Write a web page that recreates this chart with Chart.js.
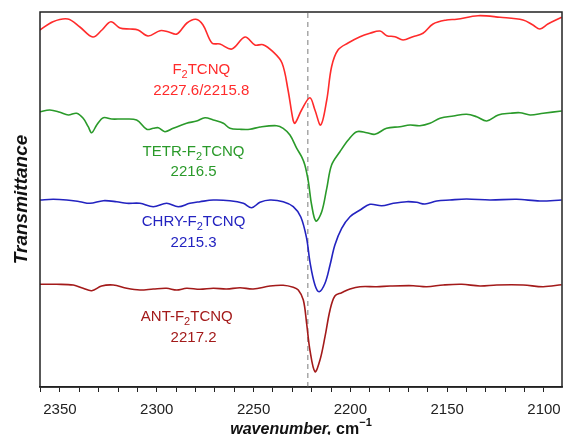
<!DOCTYPE html>
<html>
<head>
<meta charset="utf-8">
<script src="https://cdn.jsdelivr.net/npm/chart.js@4.4.0/dist/chart.umd.min.js"></script>
<style>
  body { margin: 0; background: #fff; }
</style>
</head>
<body>
<canvas id="ir-chart" width="563" height="435"></canvas>
<script>
// wavenumber (cm-1) / stacked transmittance (arb. units)
var f2tcnqWn = [2360.3, 2353.6, 2345.9, 2339.7, 2333.0, 2328.3, 2323.7, 2319.0, 2313.8, 2309.7, 2304.5, 2298.3, 2294.2, 2289.6, 2284.4, 2279.8, 2276.1, 2271.5, 2267.4, 2261.2, 2254.4, 2249.3, 2245.1, 2240.0, 2235.3, 2232.2, 2229.6, 2228.6, 2225.2, 2220.9, 2218.3, 2215.3, 2212.2, 2209.7, 2206.4, 2201.2, 2195.0, 2189.9, 2184.7, 2181.2, 2177.0, 2172.8, 2167.7, 2162.5, 2157.3, 2150.3, 2145.1, 2134.1, 2122.7, 2110.8, 2105.7, 2102.1, 2098.0, 2090.9];
var f2tcnqT = [357, 365.3, 368, 360, 350, 357, 365.3, 359, 358, 357, 351, 356.3, 355.3, 353, 364, 367.7, 362, 344, 343, 338, 350, 342, 342.3, 335.3, 324, 297, 267, 263.7, 277, 289.3, 277, 262, 287, 320.3, 337, 344, 350.3, 353.7, 356, 351.3, 350.3, 347, 350.3, 353.7, 363, 367, 367.7, 371.3, 369.7, 367, 362, 358, 363, 369.7];

var tetrWn = [2360.3, 2355.2, 2350.0, 2345.7, 2341.4, 2338.0, 2335.4, 2333.6, 2331.0, 2327.6, 2323.3, 2317.3, 2310.4, 2305.2, 2301.8, 2299.2, 2295.8, 2291.5, 2284.6, 2279.4, 2275.1, 2270.8, 2265.6, 2262.2, 2257.0, 2251.9, 2246.7, 2238.1, 2234.7, 2231.2, 2227.7, 2225.2, 2223.5, 2221.7, 2220.0, 2217.8, 2214.8, 2212.2, 2209.7, 2205.4, 2201.1, 2196.7, 2191.6, 2187.3, 2181.3, 2174.4, 2169.2, 2164.1, 2158.9, 2153.7, 2146.8, 2140.0, 2134.8, 2129.6, 2123.6, 2117.6, 2112.4, 2107.2, 2100.4, 2090.9];
var tetrT = [275.3, 277, 274.7, 272, 273.7, 268.7, 260.3, 254.3, 262, 269.3, 268, 268, 267, 257.7, 258.7, 259.3, 255.3, 258.7, 263.7, 266, 269.3, 267, 263.7, 258.7, 257.7, 257.7, 260, 261.3, 258.7, 252, 238.7, 230.3, 222, 205.3, 182, 166, 175.3, 198.7, 222, 235.3, 247, 255.3, 254.3, 252.7, 258.7, 260.3, 262, 261.3, 263.7, 268.7, 271, 272.7, 270.3, 266, 272, 273.7, 274.3, 272, 273.7, 276];

var chryWn = [2360.3, 2353.5, 2346.5, 2339.7, 2334.5, 2327.6, 2320.7, 2315.5, 2308.7, 2301.8, 2294.9, 2288.9, 2282.9, 2277.7, 2270.8, 2262.2, 2255.3, 2251.0, 2246.7, 2241.5, 2234.7, 2229.5, 2225.6, 2222.6, 2220.9, 2218.3, 2216.1, 2213.1, 2210.5, 2208.0, 2204.5, 2200.2, 2195.0, 2189.9, 2183.8, 2177.8, 2170.9, 2165.8, 2161.5, 2155.4, 2148.6, 2140.0, 2127.9, 2114.1, 2102.1, 2090.9];
var chryT = [187, 187.7, 187, 185.3, 183.7, 186.3, 185.3, 183.7, 183.7, 180.3, 183.7, 180.3, 183.7, 185.3, 187, 186.3, 183.7, 179.3, 184.7, 187, 185.3, 180.3, 170, 148.7, 125.3, 102, 95.3, 103.7, 122, 142, 158.7, 170.3, 177, 182.7, 181.3, 183.7, 185.3, 184.7, 183, 186, 187, 188, 187, 187.7, 186, 187];

var antWn = [2360.3, 2351.7, 2343.1, 2338.0, 2333.6, 2328.5, 2322.5, 2315.5, 2308.7, 2301.8, 2294.9, 2289.7, 2284.6, 2277.7, 2270.8, 2263.9, 2257.0, 2250.2, 2241.5, 2234.7, 2229.5, 2226.9, 2224.3, 2222.6, 2220.9, 2218.3, 2215.7, 2213.1, 2210.5, 2208.0, 2204.5, 2200.2, 2195.0, 2186.4, 2179.5, 2167.5, 2160.6, 2152.0, 2142.5, 2133.1, 2124.4, 2110.7, 2100.4, 2090.9];
var antT = [102.7, 102.7, 102, 98.7, 96.3, 101, 102, 98.7, 97, 98, 98.7, 97, 98.7, 97.7, 98.7, 98, 99.3, 98, 101, 101.7, 99.7, 97, 87, 63.7, 37, 15.3, 27, 50.3, 77, 91, 94.3, 98, 100.3, 100.3, 101, 101.3, 100.3, 102, 102.7, 101, 102, 102, 100.3, 102.3];

var sampleNames = ['F2TCNQ', 'TETR-F2TCNQ', 'CHRY-F2TCNQ', 'ANT-F2TCNQ'];
var peakLabels = ['2227.6/2215.8', '2216.5', '2215.3', '2217.2'];
var refLine = 2222;
var xMin = 2090.7, xMax = 2360.3;
var yMin = 0, yMax = 375;

var colors = ['#ff2b2b', '#2a9a2a', '#2323c0', '#a31a1a'];
var FONT = '"Liberation Sans", Arial, sans-serif';

function pts(xs, ys) {
  return xs.map(function (x, i) { return { x: x, y: ys[i] }; });
}

function line(label, xs, ys, color) {
  return {
    label: label,
    data: pts(xs, ys),
    borderColor: color,
    borderWidth: 1.6,
    pointRadius: 0,
    tension: 0.35,
    fill: false,
    order: 1
  };
}

// name with subscript 2, centred at cx
function drawName(ctx, name, cx, cy, color) {
  var i = name.indexOf('2');
  var a = name.slice(0, i), b = name.slice(i + 1);
  ctx.font = '15px ' + FONT;
  var wa = ctx.measureText(a).width, wb = ctx.measureText(b).width;
  ctx.font = '11px ' + FONT;
  var ws = ctx.measureText('2').width;
  var x = cx - (wa + ws + wb) / 2;
  ctx.fillStyle = color;
  ctx.textBaseline = 'middle';
  ctx.textAlign = 'left';
  ctx.font = '15px ' + FONT;
  ctx.fillText(a, x, cy);
  ctx.font = '11px ' + FONT;
  ctx.fillText('2', x + wa, cy + 5);
  ctx.font = '15px ' + FONT;
  ctx.fillText(b, x + wa + ws, cy);
}

var annotations = {
  id: 'annotations',
  afterDraw: function (chart) {
    var ctx = chart.ctx, xs = chart.scales.x, ys = chart.scales.y, area = chart.chartArea;
    ctx.save();
    // frame
    ctx.strokeStyle = '#222';
    ctx.lineWidth = 1.5;
    ctx.strokeRect(area.left, area.top, area.right - area.left, area.bottom - area.top);

    // sample labels (positions in data units)
    var namePos = [[2277, 317], [2281, 235], [2281, 165], [2284.5, 70]];
    var peakPos = [[2277, 296], [2281, 215], [2281, 144], [2281, 49]];
    for (var k = 0; k < sampleNames.length; k++) {
      drawName(ctx, sampleNames[k], xs.getPixelForValue(namePos[k][0]), ys.getPixelForValue(namePos[k][1]), colors[k]);
      ctx.font = '15px ' + FONT;
      ctx.textAlign = 'center';
      ctx.textBaseline = 'middle';
      ctx.fillText(peakLabels[k], xs.getPixelForValue(peakPos[k][0]), ys.getPixelForValue(peakPos[k][1]));
    }

    // x axis title
    ctx.fillStyle = '#111';
    ctx.textBaseline = 'alphabetic';
    ctx.textAlign = 'left';
    var t1 = 'wavenumber,', t2 = ' cm', t3 = '\u22121';
    ctx.font = 'italic bold 16px ' + FONT;
    var w1 = ctx.measureText(t1).width;
    ctx.font = 'bold 16px ' + FONT;
    var w2 = ctx.measureText(t2).width;
    ctx.font = 'bold 11px ' + FONT;
    var w3 = ctx.measureText(t3).width;
    var cx = (area.left + area.right) / 2;
    var x0 = cx - (w1 + w2 + w3) / 2, base = 434;
    ctx.font = 'italic bold 16px ' + FONT;
    ctx.fillText(t1, x0, base);
    ctx.font = 'bold 16px ' + FONT;
    ctx.fillText(t2, x0 + w1, base);
    ctx.font = 'bold 11px ' + FONT;
    ctx.fillText(t3, x0 + w1 + w2, base - 8);

    // y axis title
    ctx.translate(22, (area.top + area.bottom) / 2);
    ctx.rotate(-Math.PI / 2);
    ctx.textAlign = 'center';
    ctx.textBaseline = 'middle';
    ctx.font = 'italic bold 19px ' + FONT;
    ctx.fillText('Transmittance', 0, 0);
    ctx.restore();
  }
};

var config = {
  type: 'line',
  data: {
    datasets: [
      line(sampleNames[0], f2tcnqWn, f2tcnqT, colors[0]),
      line(sampleNames[1], tetrWn, tetrT, colors[1]),
      line(sampleNames[2], chryWn, chryT, colors[2]),
      line(sampleNames[3], antWn, antT, colors[3]),
      {
        label: 'ref',
        data: [{ x: refLine, y: yMin }, { x: refLine, y: yMax }],
        borderColor: '#a8a8a8',
        borderWidth: 1.5,
        borderDash: [5, 4],
        pointRadius: 0,
        order: 10
      }
    ]
  },
  options: {
    responsive: false,
    animation: false,
    layout: { padding: { left: 40, right: 1, top: 12, bottom: 16 } },
    plugins: {
      legend: { display: false },
      tooltip: { enabled: false }
    },
    scales: {
      x: {
        type: 'linear',
        reverse: true,
        min: xMin,
        max: xMax,
        afterFit: function (scale) {
          scale.height = 32;
          scale.paddingLeft = 0;
          scale.paddingRight = 0;
          scale.paddingTop = 0;
          scale.paddingBottom = 0;
        },
        ticks: {
          stepSize: 10,
          includeBounds: false,
          autoSkip: false,
          maxRotation: 0,
          padding: 9,
          color: '#222',
          font: { size: 15, family: FONT },
          callback: function (v) { return v % 50 === 0 ? v : ''; }
        },
        grid: { drawOnChartArea: false, drawTicks: true, tickLength: 5, color: '#222', lineWidth: 1 },
        border: { display: true, color: '#222', width: 1.5 }
      },
      y: { display: false, min: yMin, max: yMax }
    }
  },
  plugins: [annotations]
};

var myChart = new Chart(document.getElementById('ir-chart'), config);
</script>
</body>
</html>
